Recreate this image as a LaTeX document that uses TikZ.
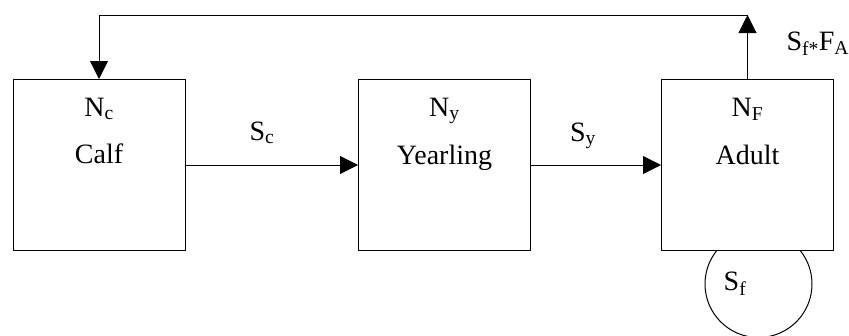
\documentclass[tikz,border=0pt]{standalone}
\usepackage{fontspec}
\setmainfont{Liberation Serif}
\usepackage{tikz}
\usetikzlibrary{arrows.meta}
\usetikzlibrary{calc}

\tikzset{
	stagebox/.style={draw=black, fill=white, line width=1pt, minimum width=172pt, minimum height=171pt, inner sep=0pt},
	rate/.style={anchor=base, inner sep=0pt}
}

\begin{document}
\begin{tikzpicture}[x=1pt,y=-1pt,>={Triangle[length=18pt,width=18pt]},line width=1pt,font=\fontsize{28}{32}\selectfont]
		\useasboundingbox (0,0) rectangle (849,335);

		% survival loop of adults, drawn first so the box hides its top
		\node at (758.5,284) (loop) [circle, draw=black, line width=1pt, minimum size=107pt, inner sep=0pt] {};
		\node[rate] at (735,290) (sf) {S\textsubscript{f}};

		% the three stages
		\node[stagebox] at (99,165) (calf) {};
		\node[stagebox] at (444.5,165) (yearling) {};
		\node[stagebox] at (747.5,165) (adult) {};

		\node[rate] at (calf.center |- 0,116) (nc) {N\textsubscript{c}};
		\node[rate] at (calf.center |- 0,163) (calflbl) {Calf};
		\node[rate] at (yearling.center |- 0,116) (ny) {N\textsubscript{y}};
		\node[rate] at (yearling.center |- 0,164) (yearlinglbl) {Yearling};
		\node[rate] at (adult.center |- 0,116) (nf) {N\textsubscript{F}};
		\node[rate] at (adult.center |- 0,164) (adultlbl) {Adult};

		% transitions
		\draw[->] (calf.east) -- (yearling.west);
		\node[rate] at (262,140) (sc) {S\textsubscript{c}};
		\draw[->] (yearling.east) -- (adult.west);
		\node[rate] at (583,141) (sy) {S\textsubscript{y}};

		% births back to calves
		\coordinate (top) at (adult.north |- 0,15);
		\draw[->] (adult.north) -- (top);
		\draw[->] (top) -| (calf.north);
		\node[rate, anchor=base west] at (786,50) (sffa) {S\textsubscript{f*}F\textsubscript{A}};
	\end{tikzpicture}
\end{document}
